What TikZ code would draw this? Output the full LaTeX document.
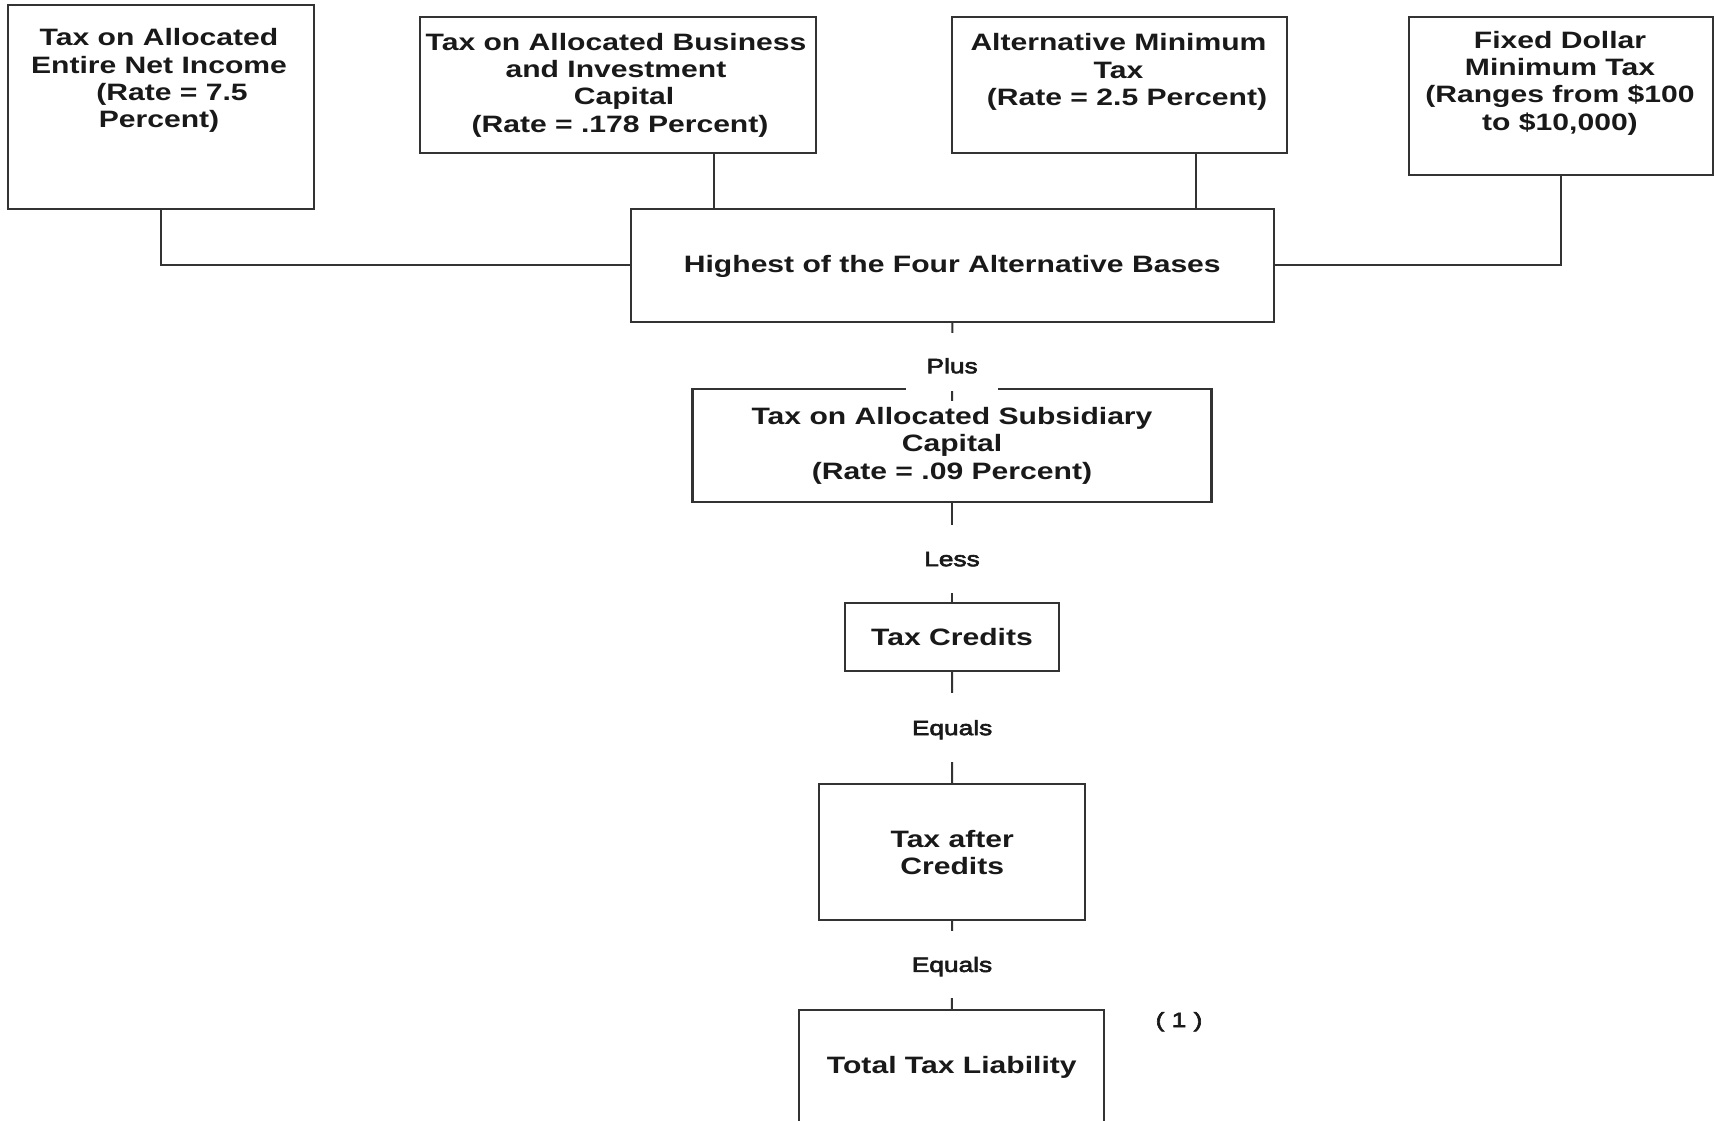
\documentclass[tikz,border=0pt]{standalone}
\usepackage{fontspec}
\setmainfont{Liberation Sans}[FakeStretch=1.27]
\newfontfamily\lbfam{Liberation Sans}[FakeStretch=1.27, FakeBold=3]
\usetikzlibrary{calc}
\newcommand\bxfont{\bfseries\fontsize{23.7pt}{27.3pt}\selectfont}
\newcommand\lbfont{\lbfam\fontsize{20.7pt}{24pt}\selectfont}

\begin{document}
\begin{tikzpicture}[x=1pt,y=-1pt,
  bx/.style={draw=black!80, line width=2.2pt, inner sep=0pt, font=\bxfont, text=black!90, align=center},
  tx/.style={align=center, inner sep=0pt, font=\bxfont, text=black!90},
  wire/.style={draw=black!80, line width=2pt},
  jn/.style={fill=white, inner sep=0pt, minimum width=92pt, font=\lbfont, text=black!90, text height=14.8pt, text depth=0pt}]
\clip (0,0) rectangle (1716,1121);
\fill[white] (0,0) rectangle (1716,1121);

% the four alternative bases
\node[bx, minimum width=305.5pt, minimum height=204pt] (b1) at (161,107) {};
\node[bx, minimum width=396pt, minimum height=135.4pt] (b2) at (617.6,85) {};
\node[bx, minimum width=335.7pt, minimum height=135.4pt] (b3) at (1119.5,85) {};
\node[bx, minimum width=304.4pt, minimum height=157.7pt] (b4) at (1560.8,96.2) {};

\node[tx] (t1) at (159,80.8) {Tax on Allocated\\Entire Net Income\\\hspace*{26pt}(Rate = 7.5\\Percent)};
\node[tx] (t2) at (616,85.1) {Tax on Allocated Business\\and Investment\\\hspace*{16pt}Capital\\\hspace*{8pt}(Rate = .178 Percent)};
\node[tx] (t3) at (1118.5,72.1) {Alternative Minimum\\Tax\\\hspace*{17pt}(Rate = 2.5 Percent)};
\node[tx] (t4) at (1560,83.1) {Fixed Dollar\\Minimum Tax\\(Ranges from \$100\\to \$10,000)};

% main column
\node[bx, minimum width=643pt, minimum height=112.7pt, text height=17pt, text depth=2pt] (hi) at (952.3,265.3) {Highest of the Four Alternative Bases};
\node[bx, minimum width=518.9pt, minimum height=113pt] (sub) at (952,445.8) {Tax on Allocated Subsidiary\\Capital\\(Rate = .09 Percent)};
\node[bx, minimum width=214pt, minimum height=67.7pt] (cr) at (952,637.2) {Tax Credits};
\node[bx, minimum width=265.7pt, minimum height=135.7pt] (ac) at (952.2,852.2) {Tax after\\Credits};
\node[bx, minimum width=305pt, minimum height=130pt, text height=17pt, text depth=20pt] (tot) at (951.8,1075) {Total Tax Liability};

\node[font=\lbfont, text=black!90, inner sep=0pt] (note) at (1179,1021.7) {( 1 )};

% bases into the maximum
\draw[wire] (b1.south) |- (hi.west);
\draw[wire] ([xshift=96.4pt]b2.south) coordinate (j2) -- (j2 |- hi.north);
\draw[wire] ([xshift=76.2pt]b3.south) coordinate (j3) -- (j3 |- hi.north);
\draw[wire] (b4.south) |- (hi.east);

% arithmetic chain
\draw[wire] (hi.south) -- node[jn, pos=0.5, minimum height=58pt, text height=22.8pt] (lplus) {Plus} ([yshift=-12.7pt]sub.north);
\draw[wire] (sub.south) -- node[jn, pos=0.56, minimum height=67.7pt] (lless) {Less} (cr.north);
\draw[wire] (cr.south) -- node[jn, pos=0.5, minimum height=68.7pt] (leq1) {Equals} (ac.north);
\draw[wire] (ac.south) -- node[jn, pos=0.494, minimum height=67.6pt] (leq2) {Equals} (tot.north);
\end{tikzpicture}
\end{document}
